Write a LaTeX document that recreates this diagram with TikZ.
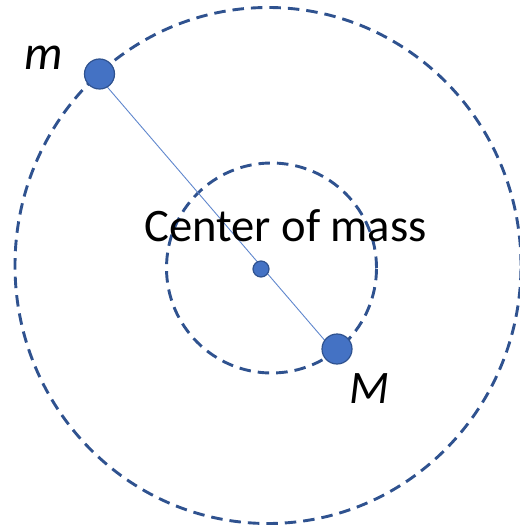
\documentclass[tikz,border=0pt]{standalone}
\usepackage{fontspec}
\setmainfont{Carlito}
\usetikzlibrary{positioning}
\definecolor{orbit}{HTML}{2F528F}
\definecolor{body}{HTML}{4472C4}

\begin{document}
\begin{tikzpicture}[
    x=1pt, y=-1pt,
    orbitline/.style={draw=orbit, line width=2.9pt, dash pattern=on 11.5pt off 7pt},
    dot/.style={circle, draw=orbit, fill=body, line width=1.2pt, inner sep=0pt, minimum size=#1},
    lbl/.style={font=\fontsize{46.6}{52}\selectfont, anchor=base, inner sep=0pt}
]
    \useasboundingbox (0,0) rectangle (519,529);
    \draw[orbitline] (268,265.5) ellipse [x radius=253pt, y radius=258pt];
    \draw[orbitline] (271.5,268) circle [radius=105pt];
    \coordinate (mend) at (103,82);
    \coordinate (Mend) at (333,350);
    \draw[body!85, line width=0.9pt] (mend) -- (Mend);
    \node[dot=30pt] (m) at (99.5,74) {};
    \node[dot=30pt] (M) at (337,349) {};
    \node[dot=16pt] (cm) at (261,269) {};
    \node[lbl] (cmlabel) at (285.5,241.7) {Center of mass};
    \node[lbl, font=\fontsize{48.5}{52}\selectfont\itshape] (mlabel) at (43.7,69.3) {m};
    \node[lbl, font=\fontsize{46.6}{52}\selectfont\itshape] (Mlabel) at (369,403.3) {M};
\end{tikzpicture}
\end{document}
